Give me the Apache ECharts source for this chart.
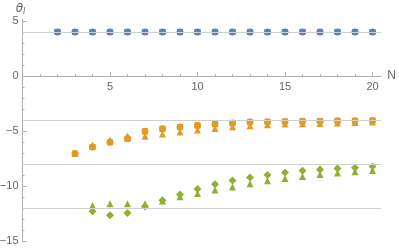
<!DOCTYPE html>
<html>
<head>
<meta charset="utf-8">
<script src="https://cdn.jsdelivr.net/npm/echarts@6/dist/echarts.min.js"></script>
<style>html,body{margin:0;padding:0;background:#fff}#c{width:399px;height:252px}</style>
</head>
<body>
<div id="c"></div>
<script>
var xTicks = [5, 10, 15, 20];
var yTicks = [-15, -10, -5, 0, 5];
var gridValues = [4, -4, -8, -12];

var blueN = [2,3,4,5,6,7,8,9,10,11,12,13,14,15,16,17,18,19,20];
var blueVals = [4,4,4,4,4,4,4,4,4,4,4,4,4,4,4,4,4,4,4];

var orangeN = [3,4,5,6,7,8,9,10,11,12,13,14,15,16,17,18,19,20];
var orangeSq = [-7.04,-6.45,-6.0,-5.69,-5.02,-4.78,-4.63,-4.48,-4.36,-4.27,-4.18,-4.15,-4.12,-4.09,-4.09,-4.06,-4.06,-4.03];
var orangeTri = [-7.0,-6.25,-5.8,-5.43,-5.47,-5.26,-5.08,-4.9,-4.75,-4.6,-4.5,-4.42,-4.36,-4.33,-4.3,-4.27,-4.22,-4.18];

var greenN = [4,5,6,7,8,9,10,11,12,13,14,15,16,17,18,19,20];
var greenDia = [-12.27,-12.63,-12.43,-11.85,-11.28,-10.74,-10.25,-9.83,-9.47,-9.2,-8.97,-8.75,-8.6,-8.48,-8.39,-8.33,-8.21];
var greenTri = [-11.76,-11.58,-11.58,-11.6,-11.35,-10.96,-10.65,-10.34,-10.08,-9.78,-9.5,-9.29,-9.11,-8.93,-8.81,-8.69,-8.57];

var BLUE = '#5E81B5', ORANGE = '#E19C24', GREEN = '#8FB032';

function pairs(ns, vs) { return ns.map(function (n, i) { return [n, vs[i]]; }); }
function minus(v) { return String(v).replace('-', '\u2212'); }

var chart = echarts.init(document.getElementById('c'), null, { renderer: 'canvas' });
var axisColor = '#b0b0b0';
var labelStyle = { color: '#666', fontSize: 11, fontFamily: 'Liberation Sans' };

function scatter(data, symbol, size, color, z) {
  return { type: 'scatter', data: data, symbol: symbol, symbolSize: size,
    itemStyle: { color: color, opacity: 1 }, z: z, silent: true, animation: false };
}

var option = {
  animation: false,
  grid: { left: 22.5, right: 17.75, top: 18.8, bottom: 10.7, containLabel: false, outerBoundsMode: 'none' },
  xAxis: {
    type: 'value', min: 0, max: 20.5, interval: 5, position: 'bottom', offset: 0,
    name: 'N', nameLocation: 'end', nameGap: 6,
    nameTextStyle: { color: '#666', fontSize: 12, fontFamily: 'Liberation Sans', verticalAlign: 'middle' },
    axisLine: { show: true, onZero: false, lineStyle: { color: axisColor, width: 1 } },
    axisTick: { show: true, inside: true, length: 4, lineStyle: { color: axisColor }, customValues: xTicks },
    minorTick: { show: true, splitNumber: 5, length: 2, lineStyle: { color: axisColor } },
    axisLabel: Object.assign({ margin: 5, customValues: xTicks, formatter: function (v) { return minus(v); } }, labelStyle),
    splitLine: { show: false }
  },
  yAxis: {
    type: 'value', min: -15, max: 5.2, interval: 5,
    name: '{a|θ}{b|l}', nameLocation: 'end', nameGap: 2,
    nameTextStyle: { align: 'center', padding: [0, 4, 0, 0],
      rich: {
        a: { fontSize: 12, fontStyle: 'italic', color: '#666', fontFamily: 'DejaVu Sans' },
        b: { fontSize: 8, fontStyle: 'italic', color: '#666', fontFamily: 'DejaVu Sans', padding: [6, 0, 0, 0] }
      } },
    axisLine: { show: true, onZero: false, lineStyle: { color: axisColor, width: 1 } },
    axisTick: { show: true, inside: true, length: 4, lineStyle: { color: axisColor }, customValues: yTicks },
    minorTick: { show: true, splitNumber: 5, length: 2, lineStyle: { color: axisColor } },
    axisLabel: Object.assign({ margin: 4, customValues: yTicks, formatter: function (v) { return minus(v); } }, labelStyle),
    splitLine: { show: false }
  },
  series: [
    { type: 'scatter', data: [], z: 1, silent: true,
      markLine: { silent: true, symbol: ['none', 'none'], label: { show: false },
        lineStyle: { color: '#d0d0d0', width: 1, type: 'solid' },
        data: gridValues.map(function (v) { return { yAxis: v }; }) } },
    scatter(pairs(blueN, blueVals), 'circle', 7, BLUE, 3),
    scatter(pairs(blueN, blueVals), 'rect', 6, BLUE, 3),
    scatter(pairs(orangeN, orangeSq), 'circle', 7, ORANGE, 3),
    scatter(pairs(orangeN, orangeSq), 'rect', 6, ORANGE, 3),
    scatter(pairs(orangeN, orangeTri), 'triangle', 7, ORANGE, 3),
    scatter(pairs(greenN, greenDia), 'diamond', 8, GREEN, 3),
    scatter(pairs(greenN, greenTri), 'triangle', 7, GREEN, 3)
  ]
};
chart.setOption(option);

// move the x axis (line, ticks, labels) up to y = 0 using the library's own scale
var zeroY = chart.convertToPixel({ yAxisIndex: 0 }, 0);
var minY = chart.convertToPixel({ yAxisIndex: 0 }, -15);
chart.setOption({ xAxis: { offset: zeroY - minY } });
</script>
</body>
</html>
